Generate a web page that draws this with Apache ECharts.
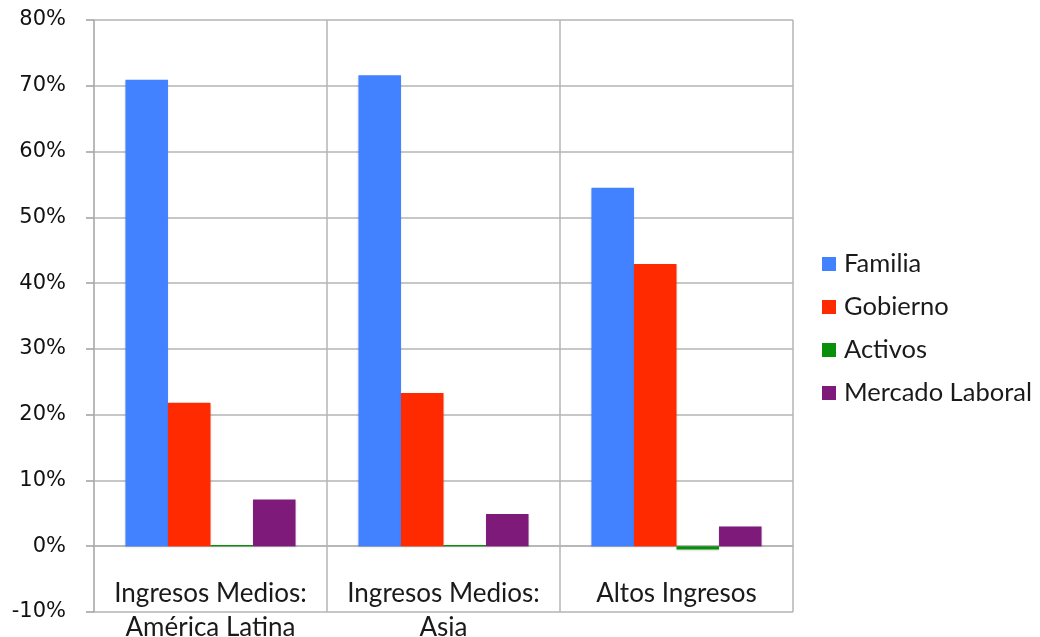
<!DOCTYPE html>
<html><head><meta charset="utf-8">
<script src="https://cdn.jsdelivr.net/npm/echarts@6/dist/echarts.min.js"></script>
<style>html,body{margin:0;padding:0;background:#fff}#c{width:1040px;height:637px}</style>
</head><body><div id="c"></div>
<script>
const categories = ['Ingresos Medios:\nAmérica Latina', 'Ingresos Medios:\nAsia', 'Altos Ingresos'];
const seriesNames = ['Familia', 'Gobierno', 'Activos', 'Mercado Laboral'];
const familia = [70.9, 71.6, 54.5];
const gobierno = [21.8, 23.3, 42.9];
const activos = [0.2, 0.2, -0.5];
const mercadoLaboral = [7.1, 4.9, 3.0];
const colors = ['#4281FF', '#FF2A00', '#0A8F0A', '#7D1A7A'];
const values = [familia, gobierno, activos, mercadoLaboral];

const chart = echarts.init(document.getElementById('c'));
chart.setOption({
  animation: false,
  color: colors,
  textStyle: { fontFamily: 'Lato' },
  grid: { left: 94, right: 247, top: 20, bottom: 25, containLabel: false, outerBoundsMode: 'none' },
  legend: {
    orient: 'vertical', left: 822, top: 251, padding: 0,
    itemWidth: 14, itemHeight: 14, itemGap: 17,
    icon: 'rect',
    textStyle: { fontSize: 25.5, color: '#1a1a1a', fontFamily: 'Lato', padding: [0,0,0,3] },
    data: seriesNames
  },
  xAxis: {
    type: 'category', data: categories,
    axisLine: { show: true, onZero: true, lineStyle: { color: '#b4b4b4', width: 1.5 } },
    axisTick: { show: false },
    splitLine: { show: true, interval: 0, lineStyle: { color: '#b4b4b4', width: 1.5 } },
    axisLabel: { interval: 0, hideOverlap: false, margin: -35, fontSize: 26, lineHeight: 34, color: '#1a1a1a', fontFamily: 'Lato' }
  },
  yAxis: {
    type: 'value', min: -10, max: 80, interval: 10,
    axisLine: { show: true, lineStyle: { color: '#b4b4b4', width: 1.5 } },
    axisTick: { show: true, length: 8, lineStyle: { color: '#a0a0a0', width: 1.5 } },
    splitLine: { show: true, lineStyle: { color: '#b4b4b4', width: 1.5 } },
    axisLabel: { formatter: '{value}%', fontSize: 21, color: '#111', margin: 28, fontFamily: 'DejaVu Sans' }
  },
  series: seriesNames.map((n, i) => ({
    name: n, type: 'bar', data: values[i],
    barGap: '0%', barCategoryGap: '27%',
    itemStyle: { color: colors[i], shadowColor: 'rgba(0,0,0,0.15)', shadowBlur: 2, shadowOffsetY: 1 }
  }))
});
</script></body></html>
